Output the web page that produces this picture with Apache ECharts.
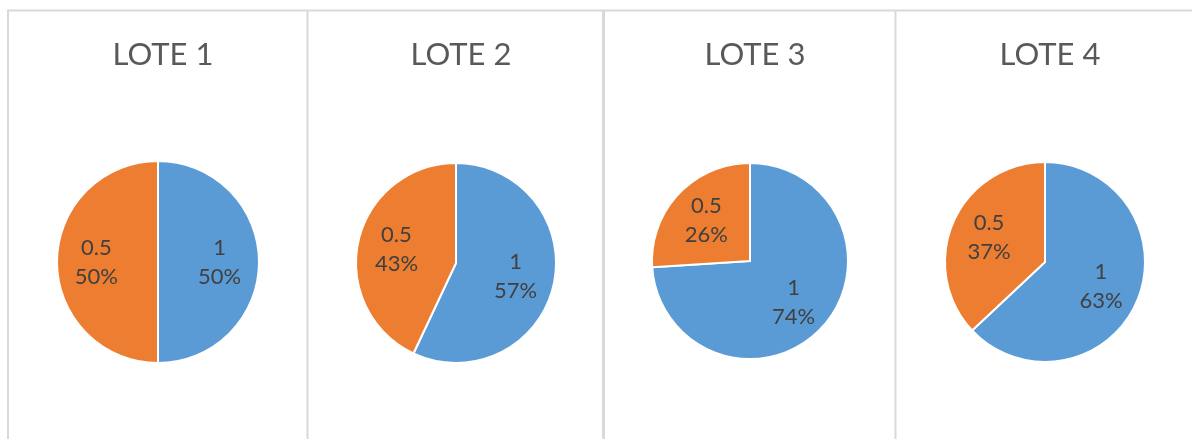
<!DOCTYPE html>
<html>
<head>
<meta charset="utf-8">
<title>LOTE 1-4</title>
<script src="https://cdn.jsdelivr.net/npm/echarts@6/dist/echarts.min.js"></script>
<style>
    html, body { margin: 0; padding: 0; background: #fff; }
    #chart { width: 1192px; height: 439px; }
</style>
</head>
<body>
<div id="chart"></div>
<script>
    // data
    const lots = ['LOTE 1', 'LOTE 2', 'LOTE 3', 'LOTE 4'];
    const categories = ['1', '0.5'];
    const shareOne = [50, 57, 74, 63];
    const shareHalf = [50, 43, 26, 37];

    // layout of the four panels
    const centers = [[158, 262], [456, 263], [750, 261], [1045, 262]];
    const radii = [101, 100, 98, 100];
    const dividers = [[8, 2], [307.5, 2], [603.5, 3], [895.5, 2]];

    const colors = ['#5B9BD5', '#ED7D31'];
    const fontFamily = 'Lato, "Open Sans", sans-serif';

    const chart = echarts.init(document.getElementById('chart'), null, {renderer: 'canvas'});

    const titles = [];
    const series = [];

    lots.forEach((name, i) => {
        const data = categories.map((c, k) => ({
            name: c,
            value: k === 0 ? shareOne[i] : shareHalf[i]
        }));

        titles.push({
            text: name,
            left: centers[i][0],
            top: 34,
            textAlign: 'center',
            textStyle: {
                fontFamily: fontFamily,
                fontSize: 31,
                fontWeight: 'normal',
                color: '#595959'
            }
        });

        // visible slices
        series.push({
            type: 'pie',
            name: name,
            center: centers[i],
            radius: radii[i],
            startAngle: 90,
            clockwise: true,
            silent: true,
            animation: false,
            color: colors,
            itemStyle: {borderColor: '#fff', borderWidth: 2},
            label: {show: false},
            labelLine: {show: false},
            data: data
        });

        // transparent copy, only used to push labels a bit further out (like Excel)
        series.push({
            type: 'pie',
            name: name + ' labels',
            center: centers[i],
            radius: radii[i] * 1.16,
            startAngle: 90,
            clockwise: true,
            silent: true,
            animation: false,
            itemStyle: {color: 'rgba(0,0,0,0)', borderWidth: 0},
            label: {
                show: true,
                position: 'inside',
                formatter: '{b}\n{d}%',
                fontFamily: fontFamily,
                fontSize: 22,
                lineHeight: 29,
                color: '#404040'
            },
            labelLine: {show: false},
            data: data
        });
    });

    // panel borders
    const graphic = [{
        type: 'line',
        shape: {x1: 7, y1: 10.5, x2: 1192, y2: 10.5},
        style: {stroke: '#d9d9d9', lineWidth: 2},
        silent: true
    }];
    dividers.forEach(([x, w]) => {
        graphic.push({
            type: 'line',
            shape: {x1: x, y1: 10, x2: x, y2: 439},
            style: {stroke: '#d9d9d9', lineWidth: w},
            silent: true
        });
    });

    chart.setOption({
        backgroundColor: '#fff',
        title: titles,
        graphic: graphic,
        series: series
    });
</script>
</body>
</html>
